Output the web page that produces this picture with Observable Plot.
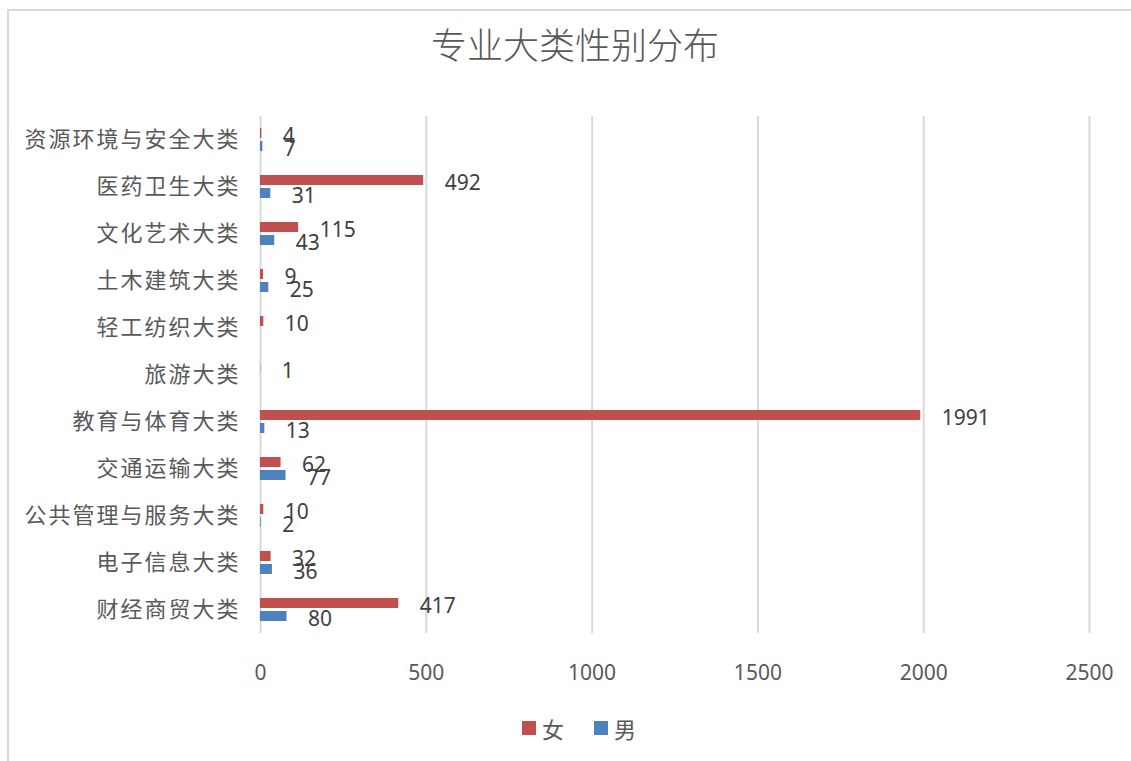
<!DOCTYPE html>
<html>
<head>
<meta charset="utf-8">
<script src="https://cdn.jsdelivr.net/npm/d3@7"></script>
<script src="https://cdn.jsdelivr.net/npm/@observablehq/plot@0.6"></script>
<style>
  body { margin:0; width:1131px; height:761px; overflow:hidden; position:relative; background:#fff; }
  #frame { position:absolute; left:7px; top:9px; width:1200px; height:900px; border:2px solid #d9d9d9; }
  #title { position:absolute; top:25px; left:0; width:1150px; text-align:center; font-family:"Noto Sans CJK SC", sans-serif; font-weight:300; font-size:36px; line-height:36px; color:#595959; }
  #chart { position:absolute; top:100px; left:0; }
  #legend { position:absolute; top:712px; left:522px; display:flex; align-items:center; font-family:"Noto Sans CJK SC", sans-serif; font-size:22px; color:#595959; }
  #legend .sw { width:14px; height:14px; display:inline-block; margin-right:6px; }
  #legend .item { display:flex; align-items:center; margin-right:30px; }
  svg g[aria-label="fy-axis tick label"] text { letter-spacing:2px; font-size:22px; font-family:"Noto Sans CJK SC", sans-serif; }
</style>
</head>
<body>
<div id="frame"></div>
<div id="title">专业大类性别分布</div>
<div id="chart"></div>
<div id="legend"></div>
<script>
const categories = ["资源环境与安全大类","医药卫生大类","文化艺术大类","土木建筑大类","轻工纺织大类","旅游大类","教育与体育大类","交通运输大类","公共管理与服务大类","电子信息大类","财经商贸大类"];
const female = [4, 492, 115, 9, 10, 1, 1991, 62, 10, 32, 417];
const male = [7, 31, 43, 25, null, null, 13, 77, 2, 36, 80];
const series = ["女", "男"];
const colors = ["#C0504D", "#4F81BD"];
const xTicks = [0, 500, 1000, 1500, 2000, 2500];

const data = [];
categories.forEach((c, i) => {
  if (female[i] != null) data.push({cat: c, sex: "女", value: female[i]});
  if (male[i] != null) data.push({cat: c, sex: "男", value: male[i]});
});

const chart = Plot.plot({
  width: 1131,
  height: 600,
  marginLeft: 260,
  marginRight: 42,
  marginTop: 11,
  marginBottom: 62,
  style: {fontFamily: "'Noto Sans', 'Noto Sans CJK SC', sans-serif", fontSize: "21px", color: "#595959", background: "transparent", overflow: "visible"},
  x: {domain: [0, 2500], ticks: xTicks, tickSize: 0, tickPadding: 32, label: null, tickFormat: d => String(d)},
  fy: {domain: categories, padding: 0, label: null, tickSize: 0, tickPadding: 20, axis: "left"},
  y: {domain: series, paddingInner: 0.2, paddingOuter: 0.848, axis: null},
  color: {domain: series, range: colors},
  marks: [
    Plot.ruleX(xTicks, {x: d => d, stroke: "#d9d9d9", strokeWidth: 2}),
    Plot.barX(data, {x: "value", y: "sex", fy: "cat", fill: "sex"}),
    Plot.text(data, {x: "value", y: "sex", fy: "cat", text: d => String(d.value), dx: 21, dy: 3, textAnchor: "start", fill: "#404040", fontSize: 21})
  ]
});
document.getElementById("chart").appendChild(chart);

const legend = document.getElementById("legend");
series.forEach((s, i) => {
  const item = document.createElement("div");
  item.className = "item";
  const sw = document.createElement("span");
  sw.className = "sw";
  sw.style.background = colors[i];
  const t = document.createElement("span");
  t.textContent = s;
  item.appendChild(sw);
  item.appendChild(t);
  legend.appendChild(item);
});
</script>
</body>
</html>
